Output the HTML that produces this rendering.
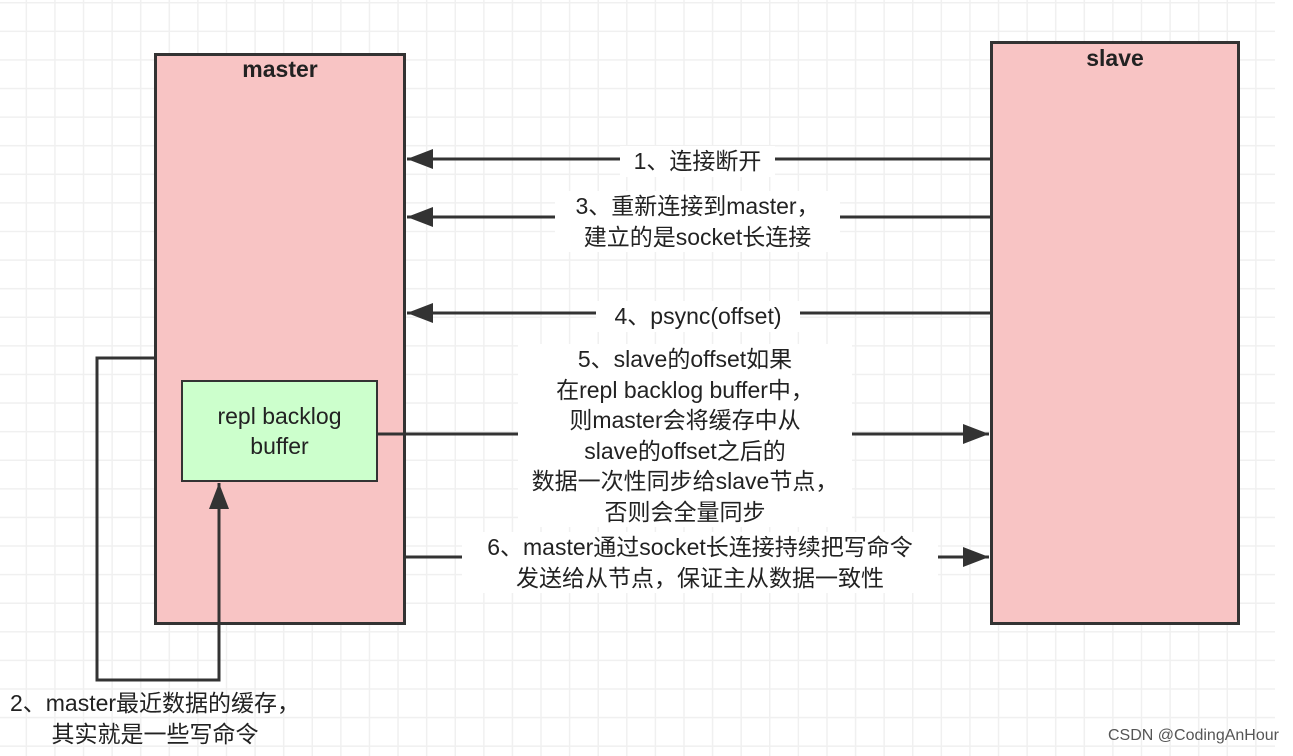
<!DOCTYPE html>
<html><head><meta charset="utf-8"><style>
html,body{margin:0;padding:0}
body{width:1293px;height:756px;position:relative;overflow:hidden;background-color:#fff;
background-image:linear-gradient(#f0f0f0 1.5px,transparent 1.5px),linear-gradient(90deg,#f0f0f0 1.5px,transparent 1.5px);
background-size:28.6px 28.6px;background-position:-3px 2px;
font-family:"Liberation Sans","Noto Sans CJK SC",sans-serif;color:#222}
.box{position:absolute;border:3px solid #333;box-sizing:border-box;background:#f8c4c4}
.t{position:absolute;text-align:center;font-size:23px;line-height:30.5px;white-space:nowrap;background:#fff}
</style></head><body>
<div style="position:absolute;left:1275px;top:0;width:18px;height:756px;background:#fff"></div>
<div class="box" style="left:154px;top:53px;width:252px;height:572px"></div>
<div class="box" style="left:990px;top:41px;width:250px;height:584px"></div>
<div style="position:absolute;left:154px;top:56px;width:252px;text-align:center;font-weight:bold;font-size:23px">master</div>
<div style="position:absolute;left:990px;top:45px;width:250px;text-align:center;font-weight:bold;font-size:23px">slave</div>
<div class="box" style="left:181px;top:380px;width:197px;height:102px;background:#ccffcc;border-width:2px"></div>
<div style="position:absolute;left:181px;top:401px;width:197px;text-align:center;font-size:23px;line-height:30px">repl backlog<br>buffer</div>
<svg width="1293" height="756" style="position:absolute;left:0;top:0">
<defs>
<marker id="b" viewBox="0 0 10 10" markerWidth="26" markerHeight="20" refX="10" refY="5" orient="auto" markerUnits="userSpaceOnUse" preserveAspectRatio="none"><path d="M0,0 L10,5 L0,10z" fill="#333"/></marker></defs>
<g stroke="#333" stroke-width="3" fill="none">
<line x1="990" y1="159" x2="407" y2="159" marker-end="url(#b)"/>
<line x1="990" y1="217" x2="407" y2="217" marker-end="url(#b)"/>
<line x1="990" y1="313" x2="407" y2="313" marker-end="url(#b)"/>
<line x1="378" y1="434" x2="989" y2="434" marker-end="url(#b)"/>
<line x1="406" y1="557" x2="989" y2="557" marker-end="url(#b)"/>
<polyline points="154,358 97,358 97,680 219,680 219,483" marker-end="url(#b)"/>
</g></svg>
<div class="t" style="left:620px;top:146px;width:155px">1、连接断开</div>
<div class="t" style="left:555px;top:191px;width:285px">3、重新连接到master，<br>建立的是socket长连接</div>
<div class="t" style="left:596px;top:301px;width:204px">4、psync(offset)</div>
<div class="t" style="left:518px;top:344px;width:334px">5、slave的offset如果<br>在repl backlog buffer中，<br>则master会将缓存中从<br>slave的offset之后的<br>数据一次性同步给slave节点，<br>否则会全量同步</div>
<div class="t" style="left:462px;top:532px;width:476px">6、master通过socket长连接持续把写命令<br>发送给从节点，保证主从数据一致性</div>
<div class="t" style="left:-5px;top:688px;width:320px;background:transparent">2、master最近数据的缓存，<br>其实就是一些写命令</div>
<div style="position:absolute;left:1108px;top:727px;font-size:16px;color:#555;white-space:nowrap">CSDN @CodingAnHour</div>
</body></html>
